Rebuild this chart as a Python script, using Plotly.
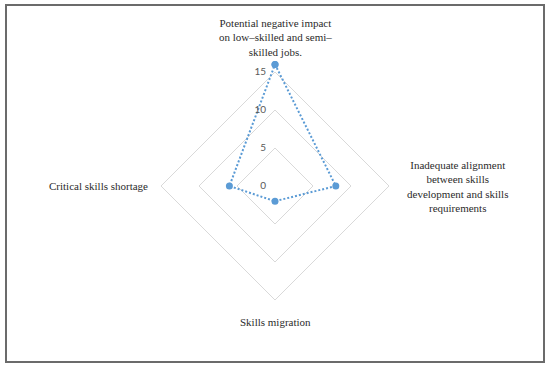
import plotly.graph_objects as go

categories = [
    "Potential negative impact<br>on low–skilled and semi–<br>skilled jobs.",
    "Inadequate alignment<br>between skills<br>development and skills<br>requirements",
    "Skills migration",
    "Critical skills shortage",
]
values = [16, 8, 2, 6]
radial_ticks = [0, 5, 10, 15]

fig = go.Figure()
fig.add_trace(go.Scatterpolar(
    r=values + values[:1],
    theta=categories + categories[:1],
    mode="lines+markers",
    line=dict(color="#5b9bd5", width=2, dash="2px,2px"),
    marker=dict(color="#5b9bd5", size=7),
    cliponaxis=False,
    showlegend=False,
    hoverinfo="skip",
))

R = 16.5
fig.update_layout(
    width=550, height=368,
    margin=dict(l=0, r=0, t=0, b=0),
    paper_bgcolor="white",
    plot_bgcolor="white",
    polar=dict(
        domain=dict(x=[0.272, 0.728], y=[0.1538, 0.8353]),
        bgcolor="white",
        gridshape="linear",
        angularaxis=dict(
            rotation=90, direction="clockwise",
            showline=False, showgrid=False, showticklabels=False, ticks="",
        ),
        radialaxis=dict(
            range=[0, R], angle=90, side="counterclockwise",
            tickvals=radial_ticks, ticktext=[str(v) for v in radial_ticks],
            showline=False, ticks="outside", ticklen=5, tickcolor="rgba(0,0,0,0)",
            tickangle=90,
            gridcolor="#d9d9d9", gridwidth=1,
            tickfont=dict(family="Lato", size=10, color="#595959"),
        ),
    ),
)

label_font = dict(family="Liberation Serif", size=11, color="#2b2b2b")
label_pos = [(275, 37), (457, 186), (275, 322), (98, 186)]
for text, (px, py) in zip(categories, label_pos):
    fig.add_annotation(
        text=text, x=px / 550, y=1 - py / 368, xref="paper", yref="paper",
        showarrow=False, font=label_font, align="center",
        xanchor="center", yanchor="middle",
    )

fig.add_shape(
    type="rect", xref="paper", yref="paper",
    x0=6 / 550, x1=544 / 550, y0=1 - 362 / 368, y1=1 - 5 / 368,
    line=dict(color="#6b6b6b", width=2), fillcolor="rgba(0,0,0,0)",
)

fig.write_html("out.html", post_script="document.body.style.margin='0';",
               config={"displayModeBar": False})
